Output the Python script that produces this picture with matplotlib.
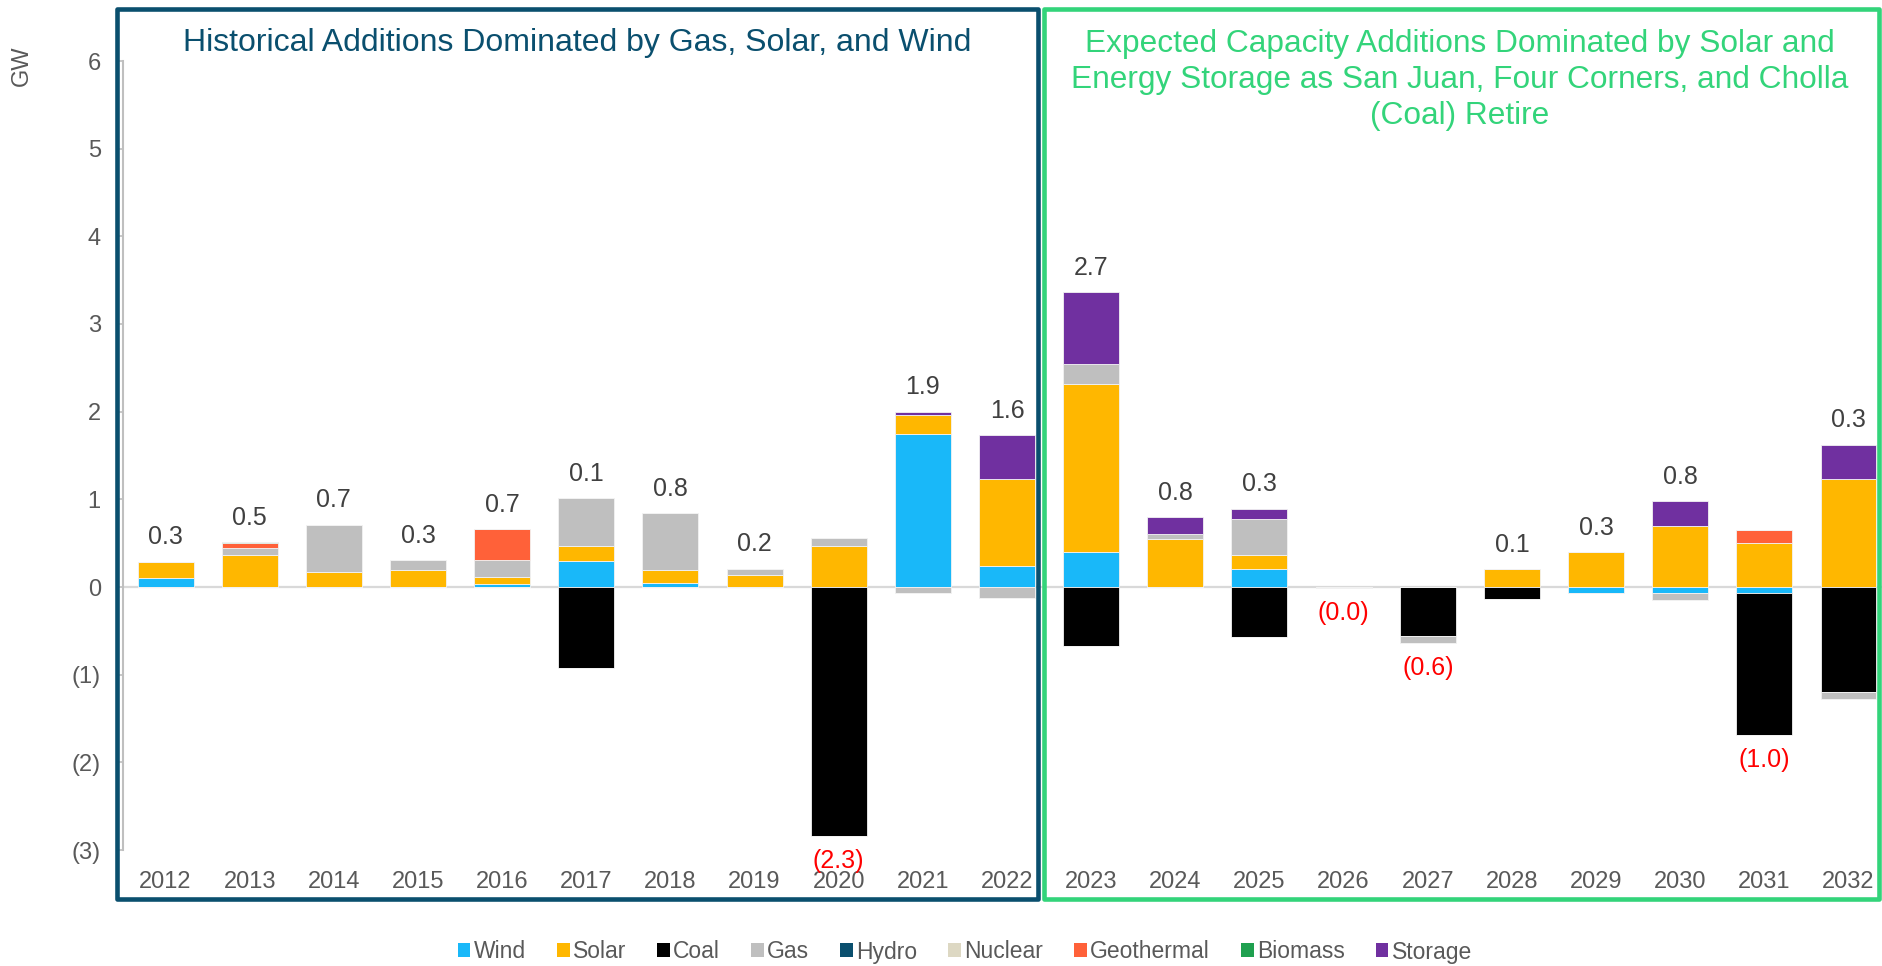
import matplotlib
matplotlib.use("Agg")
import matplotlib.pyplot as plt
from matplotlib.patches import Rectangle, Patch
import numpy as np

plt.rcParams['font.family'] = ['Liberation Sans', 'DejaVu Sans']

years = [str(y) for y in range(2012, 2033)]
wind = [0.10, 0, 0, 0, 0.035, 0.30, 0.05, 0, 0, 1.74, 0.24,
        0.40, 0, 0.20, 0, 0, 0, -0.065, -0.065, -0.065, 0]
solar = [0.19, 0.36, 0.17, 0.195, 0.08, 0.17, 0.14, 0.135, 0.465, 0.22, 0.995,
         1.92, 0.545, 0.16, 0, 0, 0.20, 0.40, 0.695, 0.505, 1.23]
coal = [0, 0, 0, 0, 0, -0.92, 0, 0, -2.84, 0, 0,
        -0.675, 0, -0.565, 0, -0.56, -0.135, 0, 0, -1.62, -1.20]
gas = [0, 0.09, 0.54, 0.11, 0.195, 0.545, 0.65, 0.065, 0.095, -0.065, -0.125,
       0.22, 0.057, 0.41, -0.01, -0.08, 0, 0, -0.088, 0, -0.077]
hydro = [0] * 21
nuclear = [0] * 21
geothermal = [0, 0.05, 0, 0, 0.35, 0, 0, 0, 0, 0, 0,
              0, 0, 0, 0, 0, 0, 0, 0, 0.15, 0]
biomass = [0, 0.015, 0, 0, 0, 0, 0, 0, 0, 0, 0,
           0, 0, 0, 0, 0, 0, 0, 0, 0, 0]
storage = [0, 0, 0, 0, 0, 0, 0, 0.01, 0, 0.04, 0.495,
           0.825, 0.195, 0.125, 0, 0, 0, 0, 0.285, 0, 0.395]

series_names = ['Wind', 'Solar', 'Coal', 'Gas', 'Hydro', 'Nuclear', 'Geothermal', 'Biomass', 'Storage']
series_vals = [wind, solar, coal, gas, hydro, nuclear, geothermal, biomass, storage]
series_cols = ['#19B8F9', '#FFB700', '#000000', '#BFBFBF', '#0A4F6E', '#DDD8C3', '#FF6139', '#1FA04F', '#7030A0']

y_ticks = [-3, -2, -1, 0, 1, 2, 3, 4, 5, 6]
left_title = "Historical Additions Dominated by Gas, Solar, and Wind"
right_title = ("Expected Capacity Additions Dominated by Solar and\n"
               "Energy Storage as San Juan, Four Corners, and Cholla\n"
               "(Coal) Retire")

W, H = 1883, 966
fig = plt.figure(figsize=(W / 100, H / 100), dpi=100)
ax = fig.add_axes([123 / W, 1 - 850 / H, (W - 123) / W, (850 - 61) / H])

x = np.arange(len(years))
pos_base = np.zeros(len(years))
neg_base = np.zeros(len(years))
bw = 0.665
for name, vals, col in zip(series_names, series_vals, series_cols):
    v = np.array(vals, dtype=float)
    p = np.where(v > 0, v, 0)
    n = np.where(v < 0, v, 0)
    ax.bar(x, p, bw, bottom=pos_base, color=col, edgecolor='#F2F2F2', linewidth=0.6, zorder=3)
    ax.bar(x, n, bw, bottom=neg_base, color=col, edgecolor='#F2F2F2', linewidth=0.6, zorder=3)
    pos_base += p
    neg_base += n

net = pos_base + neg_base
for i in range(len(years)):
    val = net[i]
    if val >= 0:
        ax.annotate(f"{abs(val):.1f}", (x[i], pos_base[i]), xytext=(0, 17.5),
                    textcoords='offset points', ha='center', va='center',
                    fontsize=18, color='#404040', annotation_clip=False)
    else:
        ax.annotate(f"({abs(val):.1f})", (x[i], neg_base[i]), xytext=(0, -18),
                    textcoords='offset points', ha='center', va='center',
                    fontsize=18, color='#FF0000', annotation_clip=False)

ax.axhline(0, color='#D9D9D9', lw=1.6, zorder=2)
ax.set_ylim(-3, 6)
ax.set_xlim(-0.506, 20.41)
ax.set_yticks(y_ticks)
ax.set_yticklabels([f"({abs(t)})" if t < 0 else f"{t}" for t in y_ticks])
ax.set_xticks(x)
ax.set_xticklabels(years)
ax.tick_params(axis='y', length=5, width=1.2, color='#BFBFBF', labelcolor='#595959',
               labelsize=17, pad=11)
ax.tick_params(axis='x', length=0, labelcolor='#595959', labelsize=17, pad=15)
for s in ['top', 'right', 'bottom']:
    ax.spines[s].set_visible(False)
ax.spines['left'].set_color('#BFBFBF')
ax.spines['left'].set_linewidth(1.5)
ax.patch.set_alpha(0)

fig.text(22 / W, 1 - 66 / H, 'GW', rotation=90, ha='center', va='center',
         fontsize=17, color='#595959')

# panel boxes
navy = '#0A4F6E'
green = '#33D47A'
fig.patches.append(Rectangle((117 / W, 1 - 899 / H), (1038.5 - 117) / W, (899 - 9) / H,
                             transform=fig.transFigure, fill=False, edgecolor=navy,
                             lw=3.3, joinstyle='round', zorder=5))
fig.patches.append(Rectangle((1044.5 / W, 1 - 899 / H), (1879.5 - 1044.5) / W, (899 - 9) / H,
                             transform=fig.transFigure, fill=False, edgecolor=green,
                             lw=3.3, joinstyle='round', zorder=5))

fig.text(577 / W, 1 - 43 / H, left_title, ha='center', va='center', fontsize=23, color=navy)
fig.text(1460 / W, 1 - 80 / H, right_title, ha='center', va='center', fontsize=22.8,
         color=green, linespacing=1.26)

handles = [Patch(facecolor=c, edgecolor='none') for c in series_cols]
fig.legend(handles, series_names, loc='center', bbox_to_anchor=(965 / W, 1 - 952 / H),
           ncol=9, frameon=False, fontsize=16.5, labelcolor='#595959',
           handlelength=0.55, handleheight=0.55, handletextpad=0.15, columnspacing=1.35)

fig.savefig('out.png', dpi=100)
